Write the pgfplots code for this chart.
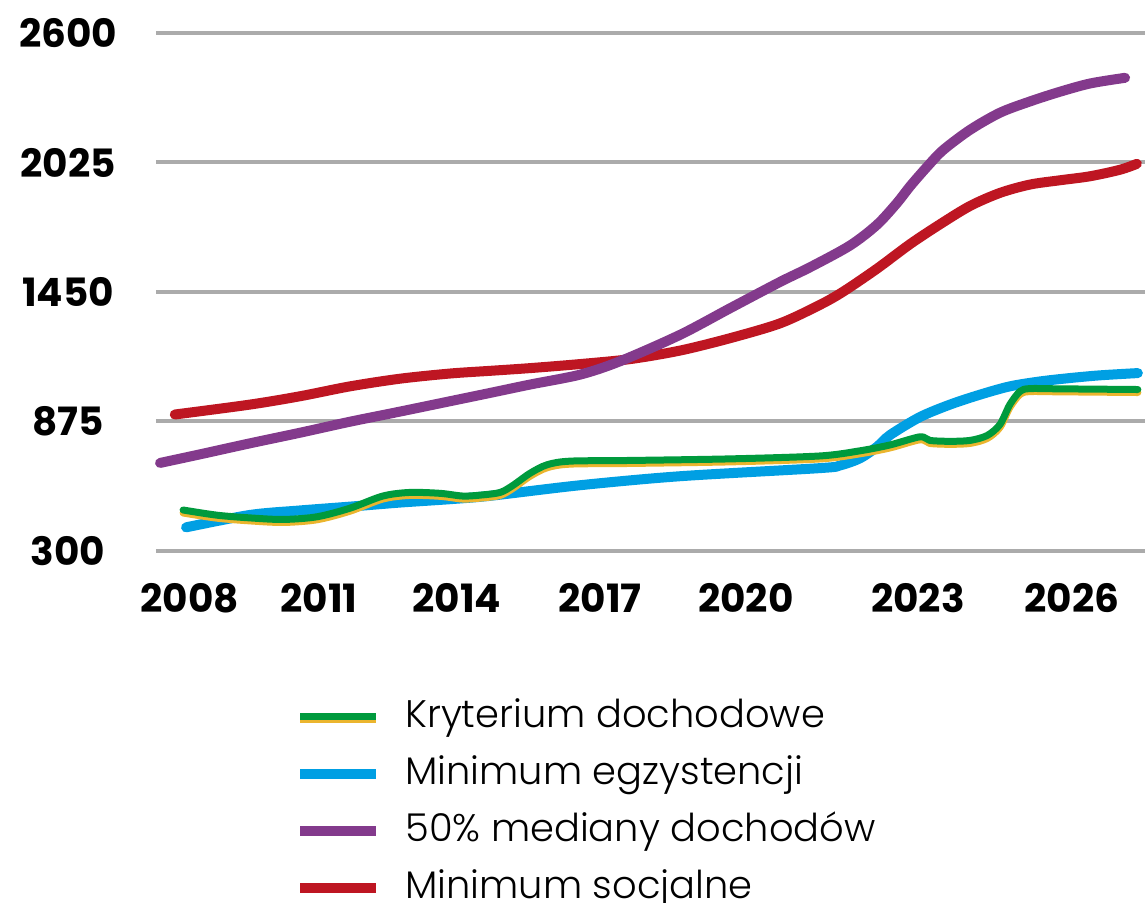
\documentclass[border=0pt]{standalone}
\usepackage{fontspec}
\setmainfont{Poppins}
\newfontfamily\lightf{Poppins Light}
\usepackage{pgfplots}
\pgfplotsset{compat=1.18}
\definecolor{greenc}{HTML}{009A3D}
\definecolor{yellowc}{HTML}{EBB52E}
\definecolor{bluec}{HTML}{009FE3}
\definecolor{purplec}{HTML}{833A8C}
\definecolor{redc}{HTML}{BE1622}
\definecolor{gridgray}{HTML}{ABABAB}
\begin{document}
\begin{tikzpicture}
\begin{axis}[
  at={(0pt,0pt)}, anchor=south west,
  scale only axis, width=494.5pt, height=259pt,
  xmin=2007.307, xmax=2027.466, ymin=300, ymax=2600,
  clip=false,
  axis line style={draw=none},
  major tick length=0pt,
  /pgf/number format/assume math mode=true,
  ytick={300,875,1450,2025,2600},
  yticklabels={300,875,1450,2025,2600},
  xtick={2007.99,2010.63,2013.44,2016.36,2019.33,2022.84,2025.98},
  xticklabels={2008,2011,2014,2017,2020,2023,2026},
  ymajorgrids,
  grid style={line width=2pt, color=gridgray},
  yticklabel style={anchor=center, xshift=-44pt, font=\fontsize{19.5}{19.5}\selectfont\bfseries},
  xticklabel style={anchor=center, yshift=-23.5pt, font=\fontsize{19.5}{19.5}\selectfont\bfseries},
  legend cell align=left,
  legend image code/.code={\draw[#1, line cap=butt] (0pt,0pt) -- (38pt,0pt);},
  legend style={draw=none, fill=none, at={(0.1405,-0.282)}, anchor=north west,
    inner sep=0pt, row sep=8.5pt,
    font=\lightf\fontsize{19.2}{19.2}\selectfont,
    nodes={inner sep=0pt, text height=15pt, text depth=5pt},
    /tikz/every odd column/.append style={column sep=12pt}},
  every axis plot/.append style={line cap=round, line join=round, smooth, tension=0.5},
]
% Minimum socjalne
\addplot[redc, line width=5pt, forget plot] coordinates {
(2007.69,906) (2009.22,950) (2010.24,987) (2011.26,1031) (2012.28,1065) (2013.30,1088)
(2014.12,1100) (2014.93,1112) (2015.95,1130) (2016.97,1152) (2017.99,1190) (2019.01,1245)
(2020.03,1311) (2020.84,1393) (2021.31,1451) (2022.00,1553) (2022.68,1663) (2023.29,1751)
(2023.90,1832) (2024.51,1890) (2025.12,1927) (2025.73,1946) (2026.35,1964) (2026.96,1993)
(2027.30,2019)};
% 50% mediany dochodow
\addplot[purplec, line width=5pt, forget plot] coordinates {
(2007.39,691) (2008.20,729) (2009.22,778) (2010.24,825) (2011.26,874) (2012.28,919)
(2013.30,965) (2014.12,1002) (2014.93,1039) (2015.95,1083) (2016.76,1142) (2017.99,1260)
(2019.01,1378) (2020.03,1495) (2020.64,1560) (2021.45,1656) (2022.00,1748) (2022.41,1845)
(2022.68,1920) (2023.02,2005) (2023.35,2080) (2023.90,2170) (2024.51,2246) (2025.12,2296)
(2025.73,2339) (2026.35,2376) (2027.06,2401)};
% Minimum egzystencji
\addplot[bluec, line width=5pt, forget plot] coordinates {
(2007.92,405) (2009.22,460) (2010.24,480) (2011.26,497) (2012.28,515) (2013.30,530)
(2014.12,545) (2015.95,592) (2017.99,632) (2020.84,668) (2021.25,680) (2021.66,712)
(2022.00,762) (2022.27,815) (2022.88,895) (2023.49,950) (2024.10,994) (2024.71,1031)
(2025.33,1053) (2025.94,1068) (2026.55,1080) (2027.32,1090)};
% Kryterium dochodowe (yellow underline)
\addplot[yellowc, line width=3.5pt, yshift=-1.5pt, forget plot] coordinates {
(2007.86,482) (2008.55,459) (2009.22,447) (2009.90,440) (2010.59,452) (2011.26,490)
(2011.93,544) (2012.48,560) (2013.10,556) (2013.56,544) (2013.91,548) (2014.32,560)
(2014.58,591) (2014.93,645) (2015.28,683) (2015.75,699) (2016.97,702) (2019.01,709)
(2020.84,722) (2021.66,745) (2022.27,771) (2022.88,807) (2023.08,791) (2023.49,787)
(2023.90,791) (2024.25,813) (2024.51,862) (2024.71,950) (2024.92,1009) (2025.12,1021)
(2025.73,1020) (2027.32,1017)};
\addplot[greenc, line width=3.5pt,
  legend image code/.code={\draw[yellowc, line width=1.5pt, line cap=butt] (0pt,-2.25pt) -- (38pt,-2.25pt);
    \draw[greenc, line width=3.5pt, line cap=butt] (0pt,0.5pt) -- (38pt,0.5pt);}] coordinates {
(2007.86,482) (2008.55,459) (2009.22,447) (2009.90,440) (2010.59,452) (2011.26,490)
(2011.93,544) (2012.48,560) (2013.10,556) (2013.56,544) (2013.91,548) (2014.32,560)
(2014.58,591) (2014.93,645) (2015.28,683) (2015.75,699) (2016.97,702) (2019.01,709)
(2020.84,722) (2021.66,745) (2022.27,771) (2022.88,807) (2023.08,791) (2023.49,787)
(2023.90,791) (2024.25,813) (2024.51,862) (2024.71,950) (2024.92,1009) (2025.12,1021)
(2025.73,1020) (2027.32,1017)};
\addlegendentry{Kryterium dochodowe}
\addlegendimage{bluec, line width=5pt}
\addlegendentry{Minimum egzystencji}
\addlegendimage{purplec, line width=5pt}
\addlegendentry{50\% mediany dochodów}
\addlegendimage{redc, line width=5pt}
\addlegendentry{Minimum socjalne}
\end{axis}
\pgfresetboundingbox
\path[use as bounding box] (-78pt,-176pt) rectangle (494.5pt,275.5pt);
\end{tikzpicture}
\end{document}
